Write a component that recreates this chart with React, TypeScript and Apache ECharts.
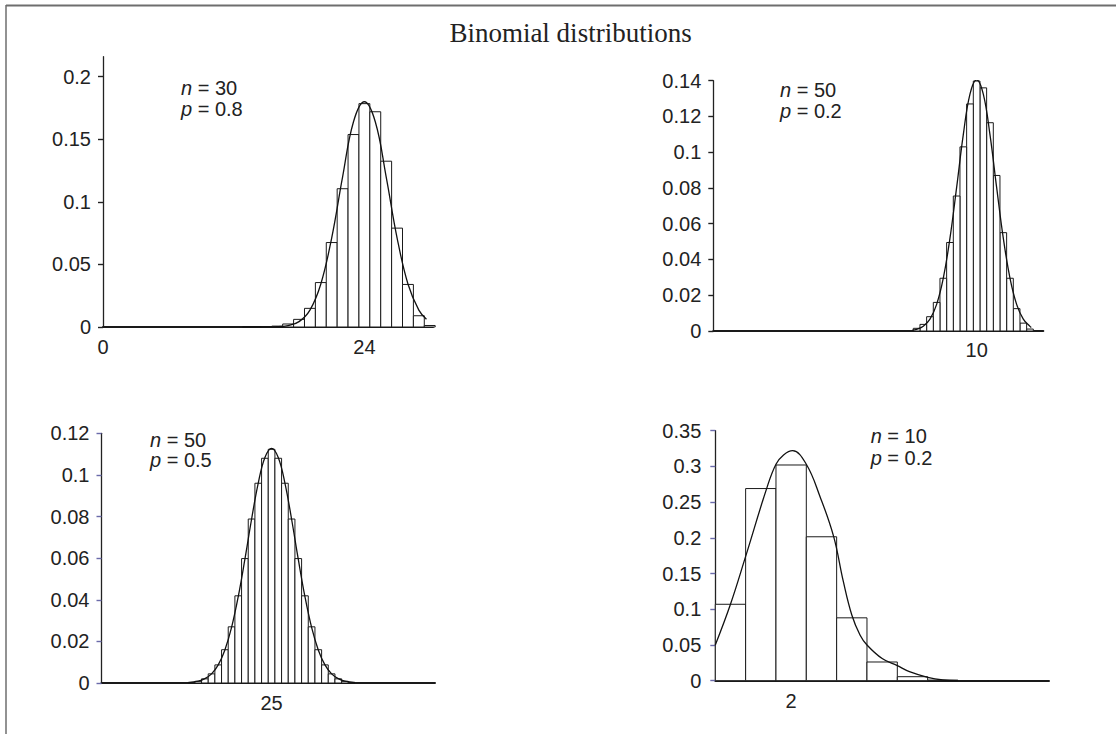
import React, { useEffect, useRef } from "react";
import * as echarts from "echarts";

const TITLE = "Binomial distributions";

// Panel A (top-left): n = 30, p = 0.8
const A_N = "30";
const A_P = "0.8";
const A_K = [13, 14, 15, 16, 17, 18, 19, 20, 21, 22, 23, 24, 25, 26, 27, 28, 29, 30];
const A_PROB = [0.0, 0.0, 0.0002, 0.0007, 0.0024, 0.0061, 0.0149, 0.0355, 0.0675, 0.1105, 0.1538, 0.1785, 0.172, 0.1325, 0.079, 0.034, 0.009, 0.0012];
const A_CURVE_X = [12.8, 14, 15, 16, 17, 18, 19, 20, 21, 22, 23, 24, 25, 26, 27, 28, 29, 29.7];
const A_CURVE_Y = [0, 0, 0.0001, 0.0002, 0.0011, 0.0043, 0.0135, 0.0344, 0.0713, 0.12, 0.164, 0.18, 0.164, 0.12, 0.0713, 0.0344, 0.0135, 0.0062];
const A_Y_TICKS = [0, 0.05, 0.1, 0.15, 0.2];
const A_X_TICKS = [0, 24];

// Panel B (top-right): n = 50, p = 0.2 (drawn mirrored)
const B_N = "50";
const B_P = "0.2";
const B_K = [2, 3, 4, 5, 6, 7, 8, 9, 10, 11, 12, 13, 14, 15, 16, 17, 18, 19];
const B_PROB = [0.0011, 0.0044, 0.0125, 0.0295, 0.055, 0.087, 0.1165, 0.136, 0.1398, 0.127, 0.103, 0.0755, 0.0495, 0.0295, 0.016, 0.008, 0.0037, 0.0015];
const B_CURVE_X = [1.8, 2, 3, 4, 5, 6, 7, 8, 9, 10, 11, 12, 13, 14, 15, 16, 17, 18, 19, 19.7];
const B_CURVE_Y = [0.002, 0.0026, 0.0066, 0.0149, 0.0296, 0.0519, 0.0803, 0.1098, 0.1325, 0.1405, 0.1325, 0.1098, 0.0803, 0.0519, 0.0296, 0.0149, 0.0066, 0.0026, 0.0009, 0.0004];
const B_X_TICKS = [10];

// Panel C (bottom-left): n = 50, p = 0.5
const C_N = "50";
const C_P = "0.5";
const C_K = [13, 14, 15, 16, 17, 18, 19, 20, 21, 22, 23, 24, 25, 26, 27, 28, 29, 30, 31, 32, 33, 34, 35, 36, 37];
const C_PROB = [0.0003, 0.0008, 0.002, 0.0044, 0.0087, 0.016, 0.027, 0.0419, 0.0598, 0.0788, 0.096, 0.108, 0.1123, 0.108, 0.096, 0.0788, 0.0598, 0.0419, 0.027, 0.016, 0.0087, 0.0044, 0.002, 0.0008, 0.0003];
const C_CURVE_X = [12.5, 14, 15, 16, 17, 18, 19, 20, 21, 22, 23, 24, 25, 26, 27, 28, 29, 30, 31, 32, 33, 34, 35, 36, 37.5];
const C_CURVE_Y = [0.0002, 0.0009, 0.0021, 0.0044, 0.0087, 0.0159, 0.0267, 0.0415, 0.0595, 0.0787, 0.0961, 0.1084, 0.1128, 0.1084, 0.0961, 0.0787, 0.0595, 0.0415, 0.0267, 0.0159, 0.0087, 0.0044, 0.0021, 0.0009, 0.0002];
const C_X_TICKS = [25];

// Panel D (bottom-right): n = 10, p = 0.2
const D_N = "10";
const D_P = "0.2";
const D_K = [0, 1, 2, 3, 4, 5, 6, 7, 8];
const D_PROB = [0.107, 0.269, 0.302, 0.2015, 0.088, 0.0262, 0.0056, 0.0008, 0.0001];
const D_CURVE_X = [-0.5, 0, 0.5, 1.2, 1.5, 1.75, 2.05, 2.5, 2.95, 3.4, 3.72, 4.0, 4.27, 4.5, 5.0, 5.5, 5.9, 6.5, 7.0, 7.5];
const D_CURVE_Y = [0.05, 0.107, 0.174, 0.27, 0.303, 0.316, 0.322, 0.303, 0.258, 0.202, 0.139, 0.092, 0.064, 0.05, 0.031, 0.021, 0.0126, 0.0047, 0.001, 0];
const D_X_TICKS = [2];

const SANS = "'Liberation Sans', Arial, sans-serif";
const SERIF = "'Liberation Serif', 'Times New Roman', serif";
const TEXT = "#222";

function barItem(params: any, api: any) {
  const k = api.value(0);
  const v = api.value(1);
  const a = api.coord([k - 0.5, v]);
  const b = api.coord([k + 0.5, 0]);
  return {
    type: "rect",
    shape: {
      x: Math.min(a[0], b[0]),
      y: Math.min(a[1], b[1]),
      width: Math.abs(b[0] - a[0]),
      height: Math.abs(b[1] - a[1]),
    },
    style: { fill: "#fff", stroke: "#1a1a1a", lineWidth: 1 },
  };
}

function annot(x: number, y: number, letter: string, value: string) {
  return {
    type: "text",
    x,
    y,
    style: {
      text: `{i|${letter}} = ${value}`,
      fontSize: 20,
      fontFamily: SANS,
      fill: TEXT,
      align: "left",
      verticalAlign: "middle",
      textAlign: "left",
      textVerticalAlign: "middle",
      rich: { i: { fontStyle: "italic", fontSize: 20, fontFamily: SANS, fill: TEXT } },
    },
  };
}

export default function App() {
  const ref = useRef<HTMLDivElement>(null);
  useEffect(() => {
    if (!ref.current) return;
    const chart = echarts.init(ref.current, undefined, { renderer: "svg" });

    const grids = [
      { left: 103, top: 56.7, width: 330, height: 270.3 },
      { left: 713.3, top: 80.7, width: 330, height: 250.3 },
      { left: 101.5, top: 433.3, width: 333.5, height: 249.7 },
      { left: 715.3, top: 430.7, width: 333.7, height: 250 },
    ].map((g) => ({ ...g, outerBoundsMode: "none", containLabel: false }));

    const xDefs = [
      { min: 0, max: 30.3, inverse: false, ticks: A_X_TICKS, margin: 10 },
      { min: 0, max: 49.5, inverse: true, ticks: B_X_TICKS, margin: 9 },
      { min: -0.5, max: 49.5, inverse: false, ticks: C_X_TICKS, margin: 10 },
      { min: -0.5, max: 10.5, inverse: false, ticks: D_X_TICKS, margin: 10 },
    ];
    const xAxis = xDefs.map((d, i) => ({
      type: "value",
      gridIndex: i,
      min: d.min,
      max: d.max,
      inverse: d.inverse,
      axisLine: { show: true, onZero: true, lineStyle: { color: "#1a1a1a", width: 2 } },
      axisTick: { show: false },
      splitLine: { show: false },
      axisLabel: {
        show: true,
        customValues: d.ticks,
        margin: d.margin,
        fontSize: 20,
        fontFamily: SANS,
        color: TEXT,
        showMinLabel: true,
        showMaxLabel: true,
      },
    }));

    const yDefs = [
      { max: 0.216, interval: undefined, custom: A_Y_TICKS, tickColor: "#222", margin: 12 },
      { max: 0.14, interval: 0.02, custom: undefined, tickColor: "#222", margin: 12 },
      { max: 0.12, interval: 0.02, custom: undefined, tickColor: "#6b6baa", margin: 12 },
      { max: 0.35, interval: 0.05, custom: undefined, tickColor: "#6b6baa", margin: 14 },
    ];
    const yAxis = yDefs.map((d, i) => {
      const ax: any = {
        type: "value",
        gridIndex: i,
        min: 0,
        max: d.max,
        axisLine: { show: true, onZero: false, lineStyle: { color: "#222", width: 1.3 } },
        axisTick: { show: true, inside: false, length: 5, lineStyle: { color: d.tickColor, width: 1.4 } },
        splitLine: { show: false },
        axisLabel: { show: true, margin: d.margin, fontSize: 20, fontFamily: SANS, color: TEXT },
      };
      if (d.interval !== undefined) ax.interval = d.interval;
      if (d.custom) {
        ax.axisLabel.customValues = d.custom;
        ax.axisTick.customValues = d.custom;
      }
      return ax;
    });

    const panels = [
      { k: A_K, p: A_PROB, cx: A_CURVE_X, cy: A_CURVE_Y },
      { k: B_K, p: B_PROB, cx: B_CURVE_X, cy: B_CURVE_Y },
      { k: C_K, p: C_PROB, cx: C_CURVE_X, cy: C_CURVE_Y },
      { k: D_K, p: D_PROB, cx: D_CURVE_X, cy: D_CURVE_Y },
    ];
    const series: any[] = [];
    panels.forEach((pn, i) => {
      series.push({
        type: "custom",
        xAxisIndex: i,
        yAxisIndex: i,
        renderItem: barItem,
        encode: { x: 0, y: 1 },
        data: pn.k.map((k, j) => [k, pn.p[j]]),
        z: 2,
        silent: true,
      });
      series.push({
        type: "line",
        xAxisIndex: i,
        yAxisIndex: i,
        data: pn.cx.map((x, j) => [x, pn.cy[j]]),
        smooth: 0.4,
        symbol: "none",
        showSymbol: false,
        lineStyle: { color: "#111", width: 1.3 },
        z: 3,
        silent: true,
      });
    });

    const graphic: any[] = [
      { type: "line", shape: { x1: 6, y1: 5.5, x2: 1116, y2: 5.5 }, style: { stroke: "#6e6e6e", lineWidth: 2 } },
      { type: "line", shape: { x1: 6, y1: 5, x2: 6, y2: 734 }, style: { stroke: "#6e6e6e", lineWidth: 1.5 } },
      {
        type: "text",
        x: 570.5,
        y: 32.5,
        style: {
          text: TITLE,
          fontSize: 27,
          fontFamily: SERIF,
          fill: TEXT,
          align: "center",
          verticalAlign: "middle",
          textAlign: "center",
          textVerticalAlign: "middle",
        },
      },
      annot(181, 88, "n", A_N),
      annot(181, 108.7, "p", A_P),
      annot(780, 90.3, "n", B_N),
      annot(780, 111.3, "p", B_P),
      annot(150, 439.7, "n", C_N),
      annot(150, 459.7, "p", C_P),
      annot(870.7, 436.3, "n", D_N),
      annot(870.7, 458, "p", D_P),
    ];

    chart.setOption({
      animation: false,
      backgroundColor: "#fff",
      grid: grids,
      xAxis,
      yAxis,
      series,
      graphic,
    });
    return () => chart.dispose();
  }, []);

  return <div ref={ref} style={{ position: "absolute", left: 0, top: 0, width: 1116, height: 734 }} />;
}
